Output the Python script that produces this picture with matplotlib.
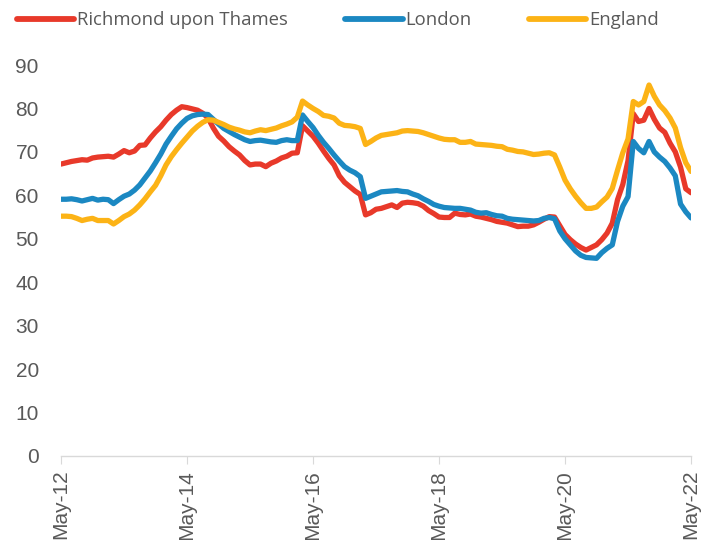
import matplotlib
matplotlib.use("Agg")
import matplotlib.pyplot as plt
import numpy as np

months = np.arange(121)  # May-12 .. May-22, monthly
tick_positions = [0, 24, 48, 72, 96, 120]
tick_labels = ["May-12", "May-14", "May-16", "May-18", "May-20", "May-22"]
y_ticks = [0, 10, 20, 30, 40, 50, 60, 70, 80, 90]

richmond = [
    67.2, 67.5, 67.8, 68.0, 68.2, 68.1, 68.6, 68.8, 68.9, 69.0,
    68.8, 69.5, 70.3, 69.8, 70.2, 71.5, 71.6, 73.2, 74.6, 75.8,
    77.3, 78.6, 79.6, 80.4, 80.2, 79.9, 79.6, 78.9, 77.8, 75.5,
    73.6, 72.5, 71.2, 70.2, 69.3, 68.0, 67.0, 67.2, 67.2, 66.6,
    67.4, 67.9, 68.6, 69.0, 69.7, 69.8, 76.0, 74.8, 73.6, 72.0,
    70.2, 68.5, 67.0, 64.5, 63.0, 62.0, 61.0, 60.2, 55.5, 56.0,
    56.8, 57.0, 57.4, 57.8, 57.2, 58.2, 58.4, 58.3, 58.1, 57.5,
    56.5, 55.8, 55.0, 54.9, 54.9, 55.9, 55.6, 55.5, 55.7, 55.2,
    55.0, 54.7, 54.4, 54.0, 53.8, 53.6, 53.2, 52.8, 52.9, 52.9,
    53.2, 53.8, 54.5, 55.1, 55.0, 53.0, 51.0, 49.8, 48.8, 48.0,
    47.4, 48.0, 48.6, 49.8, 51.3, 53.6, 59.0, 62.5, 68.0, 78.8,
    77.0, 77.3, 80.0, 77.5, 75.5, 74.5, 72.0, 70.0, 66.5, 61.5,
    60.6,
]

london = [
    59.1, 59.1, 59.2, 59.0, 58.7, 59.0, 59.3, 58.9, 59.1, 59.0,
    58.1, 59.0, 59.8, 60.3, 61.2, 62.4, 64.0, 65.6, 67.5, 69.5,
    71.8, 73.6, 75.3, 76.6, 77.7, 78.3, 78.6, 78.7, 78.6, 77.5,
    76.4, 75.4, 74.7, 74.0, 73.4, 72.8, 72.4, 72.6, 72.7, 72.5,
    72.3, 72.2, 72.6, 72.8, 72.6, 72.6, 78.5, 77.0, 75.6, 73.8,
    72.2, 70.8, 69.3, 67.9, 66.6, 65.8, 65.2, 64.3, 59.3, 59.8,
    60.3, 60.8, 60.9, 61.0, 61.1, 60.9, 60.8, 60.3, 59.9, 59.2,
    58.6, 57.9, 57.5, 57.2, 57.1, 57.0, 57.0, 56.8, 56.6, 56.1,
    55.9, 56.0, 55.6, 55.3, 55.2, 54.7, 54.5, 54.4, 54.3, 54.2,
    54.1, 54.2, 54.7, 54.9, 54.6, 51.8, 50.0, 48.6, 47.2, 46.2,
    45.7, 45.6, 45.5, 46.8, 47.8, 48.6, 54.0, 57.5, 59.7, 72.4,
    70.8, 69.8, 72.4, 70.0, 68.8, 67.8, 66.3, 64.5, 58.0, 56.2,
    54.8,
]

england = [
    55.2, 55.2, 55.1, 54.7, 54.2, 54.5, 54.7, 54.2, 54.2, 54.2,
    53.4, 54.2, 55.1, 55.7, 56.6, 57.8, 59.2, 60.8, 62.3, 64.5,
    67.0, 68.9, 70.5, 72.0, 73.4, 74.8, 75.9, 76.8, 77.4, 77.3,
    76.8, 76.3, 75.7, 75.3, 75.0, 74.6, 74.4, 74.8, 75.1, 74.9,
    75.2, 75.5, 76.0, 76.4, 76.9, 78.0, 81.7, 80.8, 80.0, 79.3,
    78.4, 78.2, 77.8, 76.6, 76.1, 76.0, 75.8, 75.4, 71.7, 72.4,
    73.2, 73.8, 74.0, 74.2, 74.4, 74.8, 74.9, 74.8, 74.7, 74.4,
    74.0, 73.6, 73.2, 72.9, 72.8, 72.8, 72.2, 72.2, 72.4, 71.8,
    71.7, 71.6, 71.5, 71.3, 71.2, 70.6, 70.4, 70.1, 70.0, 69.7,
    69.4, 69.5, 69.7, 69.8, 69.3, 66.5, 63.5, 61.5, 59.8, 58.3,
    57.0, 57.0, 57.3, 58.5, 59.6, 61.6, 65.8, 69.8, 73.0, 81.6,
    80.8, 81.6, 85.4, 82.8, 80.8, 79.5, 77.8, 75.5, 71.0, 67.5,
    65.5,
]

series_names = ["Richmond upon Thames", "London", "England"]
colors = ["#E8392A", "#1B88C2", "#FCB316"]

fig = plt.figure(figsize=(7.13, 5.40), dpi=100)
ax = fig.add_axes([0.0856, 0.1556, 0.8836, 0.724])

for vals, name, c in zip([richmond, london, england], series_names, colors):
    ax.plot(months, vals, color=c, lw=3.8, label=name,
            solid_capstyle="round", solid_joinstyle="round")

ax.set_xlim(0, 120)
ax.set_ylim(0, 90)
ax.set_yticks(y_ticks)
ax.set_xticks(tick_positions)
ax.set_xticklabels(tick_labels, rotation=90)

for s in ["left", "right", "top"]:
    ax.spines[s].set_visible(False)
ax.spines["bottom"].set_color("#d9d9d9")
ax.spines["bottom"].set_linewidth(1.0)
ax.tick_params(axis="y", length=0, labelsize=15, labelcolor="#595959", pad=16)
ax.tick_params(axis="x", length=6, color="#d9d9d9", labelsize=15,
               labelcolor="#595959", pad=4)
for lab in ax.get_xticklabels() + ax.get_yticklabels():
    lab.set_fontfamily("Liberation Sans")
ax.spines["bottom"].set_clip_on(False)

leg = fig.legend(loc="upper center", bbox_to_anchor=(0.474, 1.01), ncol=3,
                 frameon=False, handlelength=3.1, handletextpad=0.15,
                 columnspacing=3.1, prop={"family": "Open Sans", "size": 13.3})
for t in leg.get_texts():
    t.set_color("#595959")
for h in leg.get_lines():
    h.set_linewidth(4.2)

fig.savefig("out.png", dpi=100)
